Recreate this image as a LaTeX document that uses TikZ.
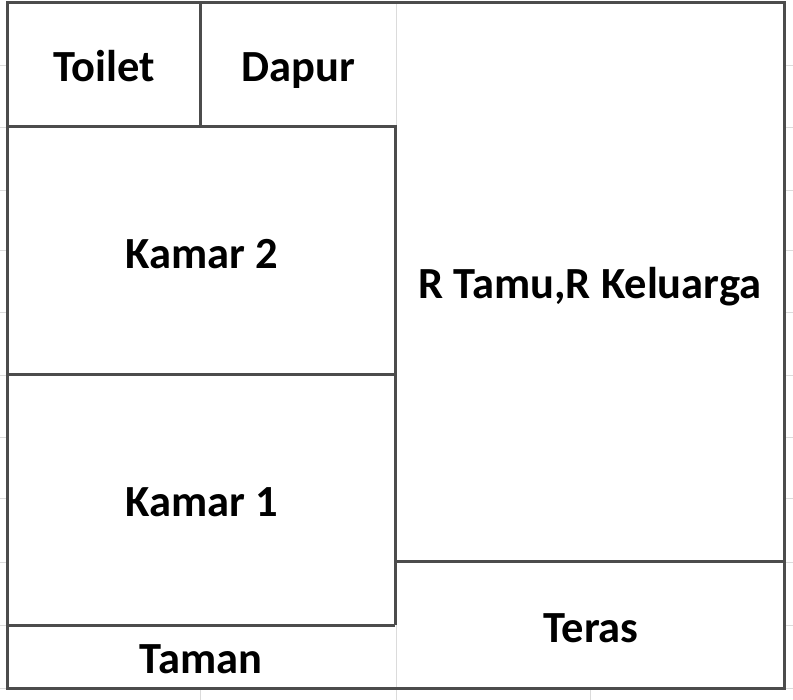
\documentclass[tikz,border=0pt]{standalone}
\usepackage{fontspec}
\setmainfont{Carlito}
\begin{document}
\begin{tikzpicture}[x=1pt,y=-1pt,
  wall/.style={draw=black!70, line width=3pt},
  grid/.style={draw=black!14, line width=0.8pt},
  room/.style={anchor=base, inner sep=0pt, font=\fontsize{44.5}{52}\selectfont\bfseries}]
\useasboundingbox[fill=white] (0,0) rectangle (793,700);
% faint spreadsheet gridlines
\foreach \y in {65,127,190,250,312,375,437,498,562,625,688}{
  \draw[grid] (0,\y) -- (7,\y);
  \draw[grid] (784,\y) -- (793,\y);
}
\foreach \x in {200,396,590}{
  \draw[grid] (\x,688) -- (\x,700);
}
\draw[grid] (396,3) -- (396,127);
\draw[grid] (396,625) -- (396,688);
% walls
\draw[wall] (7,3) rectangle (784,688);
\draw[wall] (200,3) -- (200,127);
\draw[wall] (7,127) -- (395,127) -- (395,625);
\draw[wall] (7,375) -- (395,375);
\draw[wall] (7,625) -- (395,625);
\draw[wall] (395,561) -- (784,561);
% labels
\node[room] (toilet) at (104,82) {Toilet};
\node[room] (dapur) at (298,82) {Dapur};
\node[room] (kamar2) at (202,269) {Kamar 2};
\node[room] (kamar1) at (202,516) {Kamar 1};
\node[room] (rtamu) at (590,299) {R Tamu,R Keluarga};
\node[room] (teras) at (591,642) {Teras};
\node[room] (taman) at (201,673) {Taman};
\end{tikzpicture}
\end{document}
